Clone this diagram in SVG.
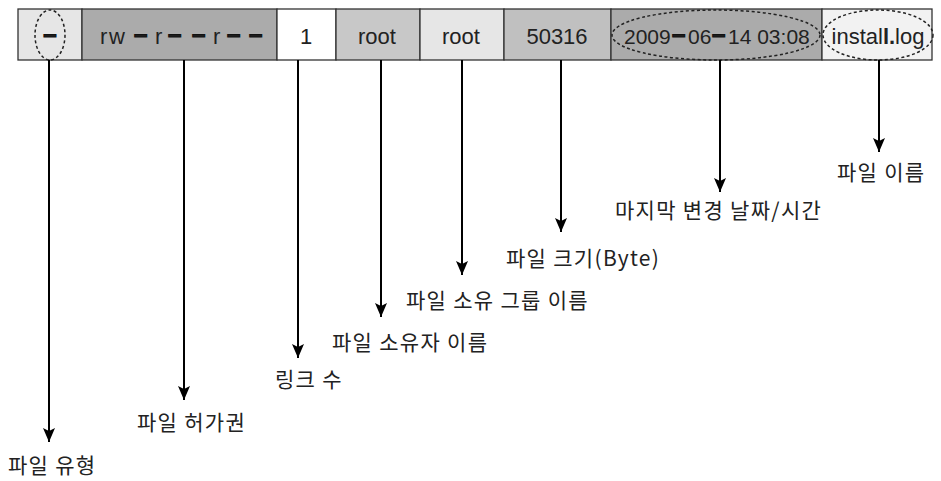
<svg xmlns="http://www.w3.org/2000/svg" width="941" height="481" viewBox="0 0 941 481">
<defs>
<marker id="ah" markerUnits="userSpaceOnUse" markerWidth="14" markerHeight="12" viewBox="0 0 14 12" refX="14" refY="6" orient="auto">
<path d="M0,0 L14,6 L0,12 L3,6 z" fill="#000"/>
</marker>
<style>
.cell{stroke:#333;stroke-width:1.3}
.val{font-family:"Liberation Sans",Arial,sans-serif;font-size:22px;fill:#222;text-anchor:middle}
.st{text-anchor:start}
.sm{font-size:21px}
.dash{font-weight:bold;stroke:#111;stroke-width:1.2;font-size:24px}
.ell{fill:none;stroke:#222;stroke-width:1.5;stroke-dasharray:3 2.5}
.lbl{font-family:"Noto Sans CJK KR","Noto Sans",sans-serif;font-size:21px;letter-spacing:1.3px;fill:#222}
.conn line{stroke:#000;stroke-width:2;marker-end:url(#ah)}
</style>
</defs>
<rect width="941" height="481" fill="#fff"/>
<g id="type">
<rect class="cell" x="18" y="9" width="64" height="51" fill="#e6e6e6"/>
<text class="val dash" x="50" y="42">–</text>
<ellipse class="ell" cx="50" cy="35" rx="15" ry="25"/>
</g>
<g id="perm">
<rect class="cell" x="82" y="9" width="195" height="51" fill="#ababab"/>
<text class="val st"><tspan x="100" y="44">r</tspan><tspan x="109" y="44">w</tspan><tspan class="dash" x="134" y="42">–</tspan><tspan x="155" y="44">r</tspan><tspan class="dash" x="168" y="42">–</tspan><tspan class="dash" x="192" y="42">–</tspan><tspan x="213" y="44">r</tspan><tspan class="dash" x="227" y="42">–</tspan><tspan class="dash" x="249" y="42">–</tspan></text>
</g>
<g id="links">
<rect class="cell" x="277" y="9" width="59" height="51" fill="#fff"/>
<text class="val" x="306" y="44">1</text>
</g>
<g id="owner">
<rect class="cell" x="336" y="9" width="84" height="51" fill="#c8c8c8"/>
<text class="val" x="377" y="44">root</text>
</g>
<g id="group">
<rect class="cell" x="420" y="9" width="84" height="51" fill="#e6e6e6"/>
<text class="val" x="461" y="44">root</text>
</g>
<g id="size">
<rect class="cell" x="504" y="9" width="107" height="51" fill="#c0c0c0"/>
<text class="val" x="557" y="44">50316</text>
</g>
<g id="date">
<rect class="cell" x="611" y="9" width="211" height="51" fill="#ababab"/>
<text class="val st sm"><tspan x="624" y="44">2009</tspan><tspan class="dash" x="672" y="42">–</tspan><tspan x="688" y="44">06</tspan><tspan class="dash" x="712" y="42">–</tspan><tspan x="728" y="44">14 03:08</tspan></text>
<ellipse class="ell" cx="716" cy="35" rx="104" ry="25"/>
</g>
<g id="name">
<rect class="cell" x="822" y="9" width="110" height="51" fill="#f2f2f2"/>
<text class="val" x="878" y="44">instal<tspan font-weight="bold">l.</tspan>log</text>
<ellipse class="ell" cx="878" cy="35" rx="55" ry="25"/>
</g>
<g id="connectors" class="conn">
<line x1="49" y1="60" x2="49" y2="442"/>
<line x1="184" y1="60" x2="184" y2="400"/>
<line x1="298" y1="60" x2="298" y2="358"/>
<line x1="381" y1="60" x2="381" y2="317"/>
<line x1="462" y1="60" x2="462" y2="275"/>
<line x1="561" y1="60" x2="561" y2="232"/>
<line x1="720" y1="60" x2="720" y2="192"/>
<line x1="879" y1="60" x2="879" y2="152"/>
</g>
<g id="labels">
<text class="lbl" x="8" y="473">파일 유형</text>
<text class="lbl" x="137" y="430">파일 허가권</text>
<text class="lbl" x="275" y="387">링크 수</text>
<text class="lbl" x="332" y="350">파일 소유자 이름</text>
<text class="lbl" x="406" y="308">파일 소유 그룹 이름</text>
<text class="lbl" x="506" y="266">파일 크기(Byte)</text>
<text class="lbl" x="615" y="218">마지막 변경 날짜/시간</text>
<text class="lbl" x="837" y="180">파일 이름</text>
</g>
</svg>
